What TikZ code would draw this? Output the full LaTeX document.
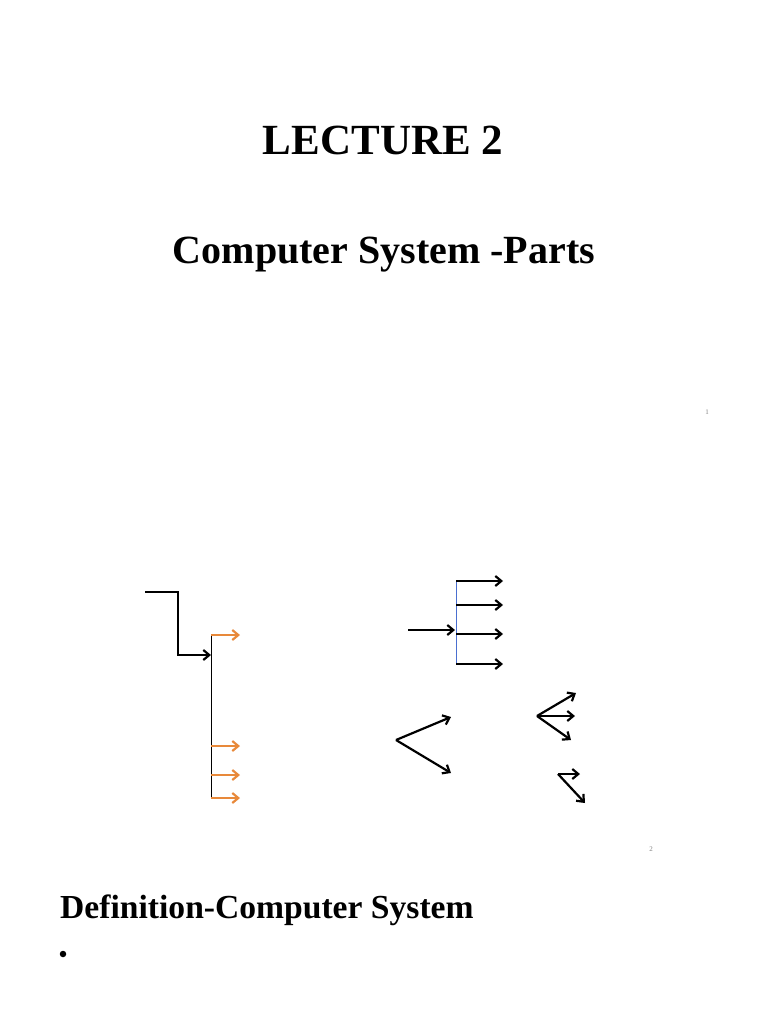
\documentclass[tikz,border=0pt]{standalone}
\usepackage{fontspec}
\setmainfont{Liberation Serif}
\usetikzlibrary{arrows.meta}
\definecolor{arrorange}{HTML}{E8893A}
\definecolor{vblue}{HTML}{4A6FD0}
\begin{document}
\begin{tikzpicture}[x=1pt,y=-1pt,
  title/.style={font=\fontsize{43}{48}\selectfont\bfseries, inner sep=0pt, anchor=base},
  head/.style={inner sep=0pt},
  pnum/.style={font=\fontsize{7}{8}\selectfont, text=gray, inner sep=0pt, anchor=base},
  blk/.style={draw=black, line width=2.2pt, -{Straight Barb[length=6pt,width=10pt]}},
  org/.style={draw=arrorange, line width=2.2pt, -{Straight Barb[length=6pt,width=10pt]}},
  thin/.style={draw=black, line width=1pt}
]
\useasboundingbox (0,0) rectangle (768,1024);
% texts
\node[title] (t1) at (383,155) {LECTURE 2};
\node[head, anchor=base, font=\fontsize{40}{45}\selectfont\bfseries] (t2) at (384,263) {Computer System -Parts};
\node[pnum] (p1) at (707,414) {1};
\node[pnum] (p2) at (651,851) {2};
\node[head, anchor=base west, font=\fontsize{33.6}{38}\selectfont\bfseries] (t3) at (60,918) {Definition-Computer System};
\node[circle, fill=black, inner sep=0pt, minimum size=6.5pt] (b1) at (63,954) {};
% left group
\coordinate (l0) at (145,592);
\coordinate (l1) at (178,592);
\coordinate (l2) at (178,655);
\coordinate (l3) at (211,655);
\draw[blk] (l0) -- (l1) -- (l2) -- (l3);
\coordinate (vt) at (211,634);
\coordinate (vb) at (211,798);
\draw[thin] (vt) -- (vb);
\foreach \y [count=\i] in {635,746,775,798}{
  \coordinate (os\i) at (211,\y);
  \coordinate (oe\i) at (240,\y);
  \draw[org] (os\i) -- (oe\i);
}
% middle top
\coordinate (mi) at (408,630);
\coordinate (mj) at (455,630);
\draw[blk] (mi) -- (mj);
\coordinate (bt) at (456,581);
\coordinate (bb) at (456,664);
\draw[draw=vblue, line width=1pt] (bt) -- (bb);
\foreach \y [count=\i] in {581,605,634,664}{
  \coordinate (ms\i) at (456,\y);
  \coordinate (me\i) at (503,\y);
  \draw[blk] (ms\i) -- (me\i);
}
% V shape
\coordinate (v0) at (396,740);
\coordinate (v1) at (451,717);
\coordinate (v2) at (451,773);
\draw[blk] (v0) -- (v1);
\draw[blk] (v0) -- (v2);
% fan
\coordinate (f0) at (537,716);
\coordinate (f1) at (576,693);
\coordinate (f2) at (575,716);
\coordinate (f3) at (571,740);
\draw[blk] (f0) -- (f1);
\draw[blk] (f0) -- (f2);
\draw[blk] (f0) -- (f3);
% bottom right
\coordinate (g0) at (558,774);
\coordinate (g1) at (580,774);
\coordinate (g2) at (585,803);
\draw[blk] (g0) -- (g1);
\draw[blk] (g0) -- (g2);
\end{tikzpicture}
\end{document}
